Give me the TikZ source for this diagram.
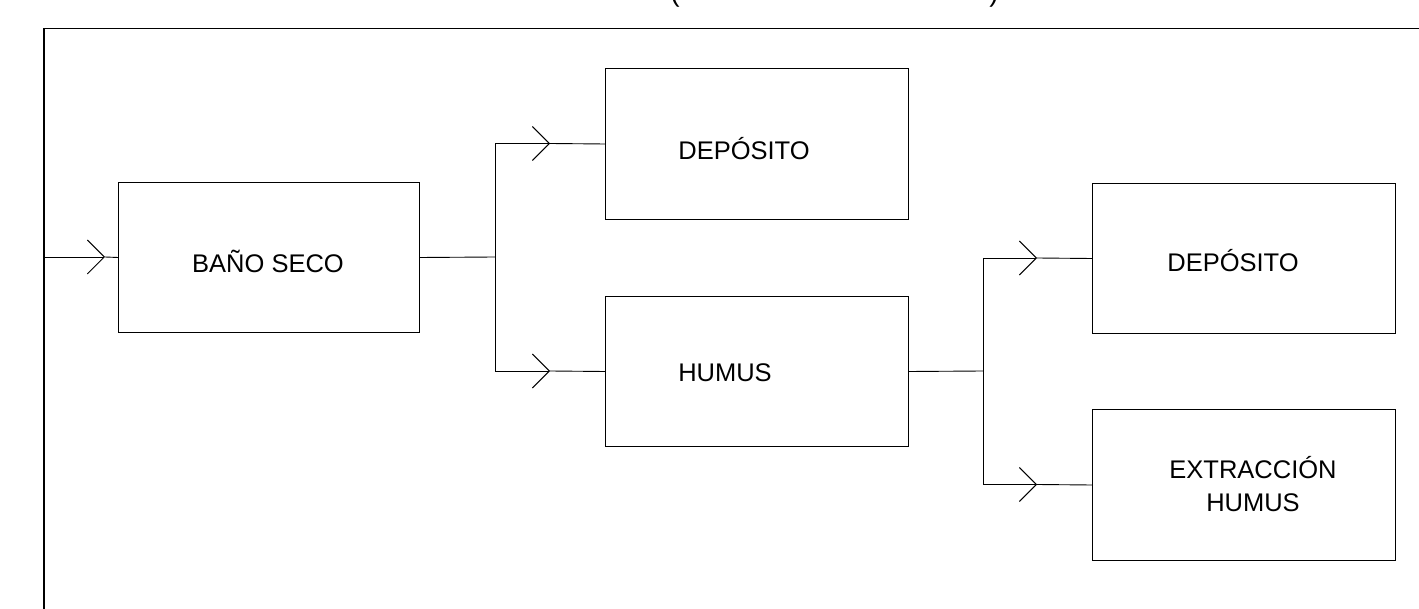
\documentclass[tikz,border=0pt]{standalone}
\usepackage{fontspec}
\setmainfont{Liberation Sans}
\usetikzlibrary{arrows.meta}
\begin{document}
\begin{tikzpicture}[x=1pt,y=-1pt,
  box/.style={draw, line width=1pt, minimum width=301pt, minimum height=150pt, inner sep=0pt, anchor=north west},
  lbl/.style={font=\fontsize{25.5}{32.5}\selectfont, inner sep=0pt, anchor=base},
  ln/.style={line width=0.9pt},
  arr/.style={ln, -{Straight Barb[length=17pt,width=34pt,line width=0.9pt]}}]
\useasboundingbox (0,0) rectangle (1419,609);
% partial title parentheses
\node[font=\fontsize{28}{28}\selectfont, inner sep=0pt, anchor=south] (lp) at (675,8) {(};
\node[font=\fontsize{28}{28}\selectfont, inner sep=0pt, anchor=south] (rp) at (994,8) {)};
% frame
\coordinate (fbl) at (44,612);
\coordinate (ftl) at (44,28.5);
\coordinate (ftr) at (1422,28.5);
\draw[line width=1.1pt] (fbl) -- (ftl) -- (ftr);
% boxes
\node[box] (bano) at (118,182) {};
\node[box, minimum width=303pt, minimum height=151pt] (dep1) at (605,68) {};
\node[box, minimum width=303pt] (hum) at (605,296) {};
\node[box, minimum width=303pt] (dep2) at (1092,183) {};
\node[box, minimum width=303pt, minimum height=151pt] (ext) at (1092,409) {};
% labels
\node[lbl] (tbano) at (268,273) {BAÑO SECO};
\node[lbl] (tdep1) at (744,160) {DEPÓSITO};
\node[lbl] (thum) at (725,382) {HUMUS};
\node[lbl] (tdep2) at (1233,272) {DEPÓSITO};
\node[lbl, align=center] (text) at (1253,511) {EXTRACCIÓN\\HUMUS};
% connectors
\coordinate (in) at (44,257);
\coordinate (t0) at (105,257);
\draw[arr] (in) -- (t0);
\draw[ln] (t0) -- (bano.west);
\coordinate (j1) at (495,257);
\coordinate (j1t) at (495,143.5);
\coordinate (j1b) at (495,371);
\draw[ln] (bano.east) -- (j1);
\draw[ln] (j1t) -- (j1b);
\coordinate (a1) at (550,143.5);
\coordinate (a2) at (550,371);
\draw[arr] (j1t) -- (a1);
\draw[ln] (a1) -- (dep1.west);
\draw[arr] (j1b) -- (a2);
\draw[ln] (a2) -- (hum.west);
\coordinate (j2) at (983,371);
\coordinate (j2t) at (983,258);
\coordinate (j2b) at (983,484.5);
\draw[ln] (hum.east) -- (j2);
\draw[ln] (j2t) -- (j2b);
\coordinate (a3) at (1037,258);
\coordinate (a4) at (1037,484.5);
\draw[arr] (j2t) -- (a3);
\draw[ln] (a3) -- (dep2.west);
\draw[arr] (j2b) -- (a4);
\draw[ln] (a4) -- (ext.west);
\end{tikzpicture}
\end{document}
